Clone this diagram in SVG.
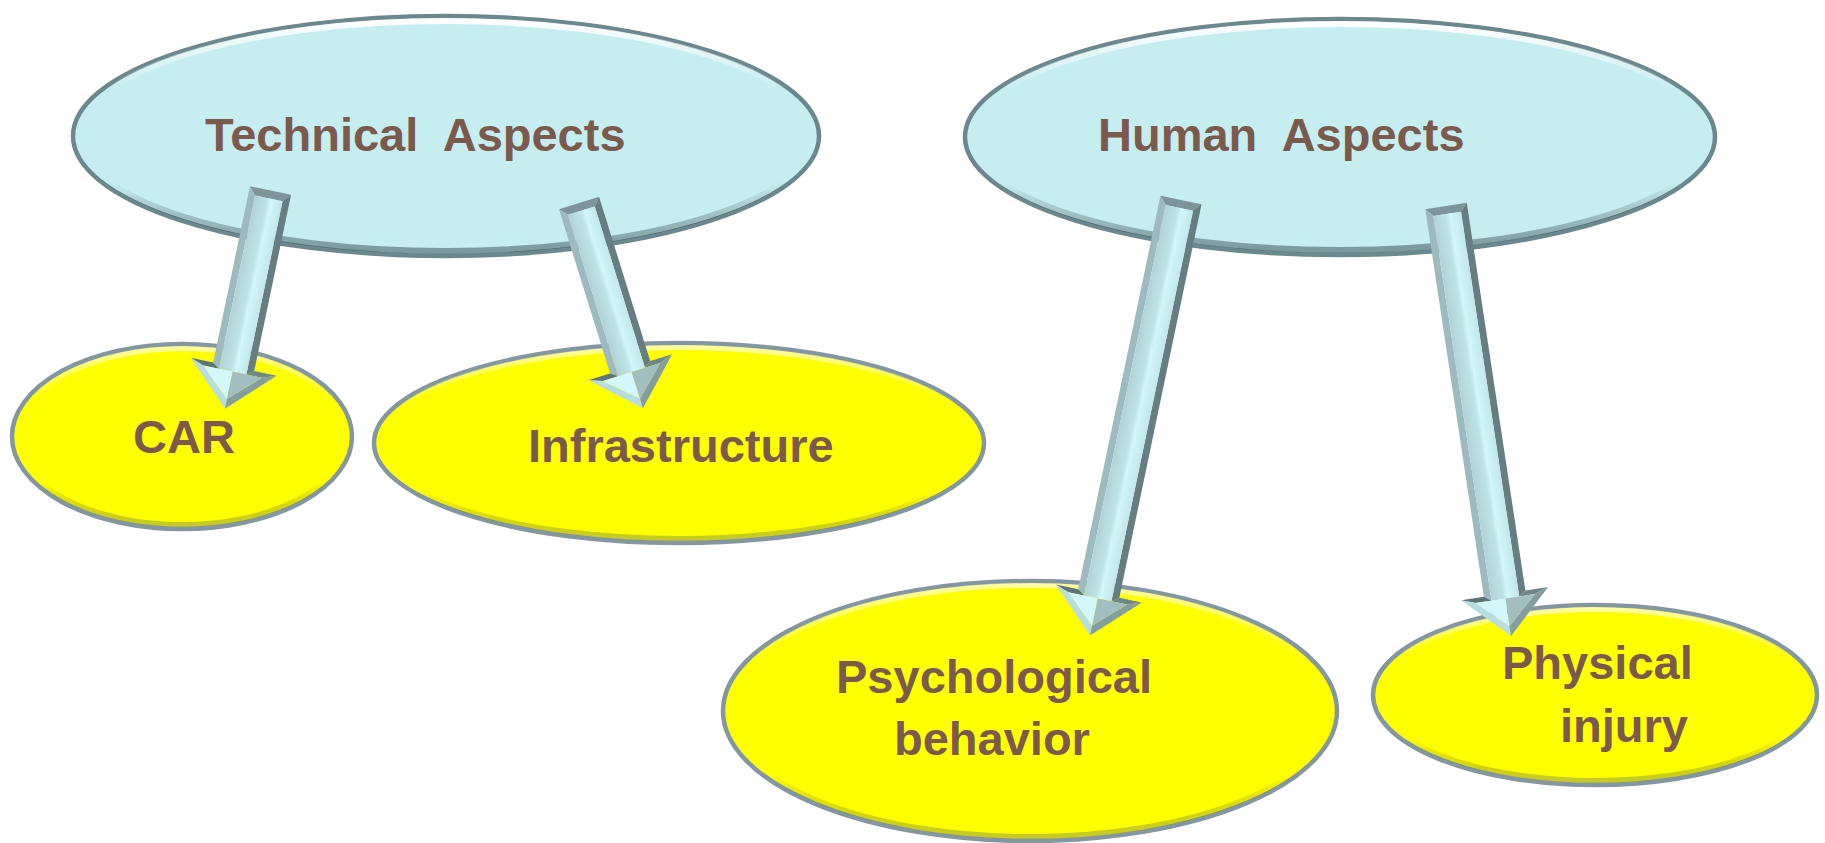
<svg xmlns="http://www.w3.org/2000/svg" width="1825" height="843" viewBox="0 0 1825 843">
<defs>
<linearGradient id="bevel" x1="0" y1="0" x2="0" y2="1">
<stop offset="0" stop-color="#ffffff" stop-opacity="0.95"/>
<stop offset="0.3" stop-color="#ffffff" stop-opacity="0"/>
<stop offset="0.7" stop-color="#000000" stop-opacity="0"/>
<stop offset="1" stop-color="#1e3236" stop-opacity="0.45"/>
</linearGradient>
<linearGradient id="bevelY" x1="0" y1="0" x2="0" y2="1">
<stop offset="0" stop-color="#ffffff" stop-opacity="0.6"/>
<stop offset="0.3" stop-color="#ffffff" stop-opacity="0"/>
<stop offset="0.75" stop-color="#000000" stop-opacity="0"/>
<stop offset="1" stop-color="#5a6a6c" stop-opacity="0.35"/>
</linearGradient>
<linearGradient id="shaft" x1="0" y1="0" x2="1" y2="0">
<stop offset="0" stop-color="#AFD3D7"/>
<stop offset="0.45" stop-color="#BFE4E7"/>
<stop offset="0.6" stop-color="#D3F8FA"/>
<stop offset="1" stop-color="#C2E7EA"/>
</linearGradient>
<style>
.tech{fill:#C6EEF1;stroke:#6A888E;stroke-width:4.5}
.sub{fill:#FFFF00;stroke:#8497A0;stroke-width:4.5}
.bv{fill:none;stroke:url(#bevel);stroke-width:6}
.bvy{fill:none;stroke:url(#bevelY);stroke-width:5}
.lbl{font-family:"Liberation Sans",Arial,sans-serif;font-weight:bold;font-size:47px;fill:#7B5A4D}
.at{fill:#7D9599}.al{fill:#9DBBBE}.ar{fill:#667E82}.af{fill:url(#shaft)}
.alw{fill:#5D7478}.arw{fill:#6F878B}.all{fill:#B7DDE0}.arl{fill:#839DA0}
.ahl{fill:#D2F8FA}.ahr{fill:#A2BEC1}
</style>
</defs>
<rect width="1825" height="843" fill="#ffffff"/>

<g id="technical">
<ellipse class="tech" cx="446" cy="136" rx="373" ry="120"/>
<ellipse class="bv" cx="446" cy="136" rx="368" ry="115"/>
<text class="lbl" x="205" y="151" xml:space="preserve">Technical  Aspects</text>
</g>

<g id="human">
<ellipse class="tech" cx="1340" cy="137" rx="375" ry="118"/>
<ellipse class="bv" cx="1340" cy="137" rx="370" ry="113"/>
<text class="lbl" x="1098" y="151" xml:space="preserve">Human  Aspects</text>
</g>

<g id="car">
<ellipse class="sub" cx="182" cy="436.5" rx="170" ry="92.5"/>
<ellipse class="bvy" cx="182" cy="436.5" rx="165.5" ry="88"/>
<text class="lbl" x="133" y="453">CAR</text>
</g>

<g id="infrastructure">
<ellipse class="sub" cx="679" cy="443" rx="305" ry="100"/>
<ellipse class="bvy" cx="679" cy="443" rx="300.5" ry="95.5"/>
<text class="lbl" x="528" y="462">Infrastructure</text>
</g>

<g id="psychological">
<ellipse class="sub" cx="1030" cy="711" rx="307" ry="130"/>
<ellipse class="bvy" cx="1030" cy="711" rx="302.5" ry="125.5"/>
<text class="lbl" x="836" y="693">Psychological</text>
<text class="lbl" x="894" y="755">behavior</text>
</g>

<g id="physical">
<ellipse class="sub" cx="1595" cy="695" rx="222" ry="90"/>
<ellipse class="bvy" cx="1595" cy="695" rx="217.5" ry="85.5"/>
<text class="lbl" x="1502" y="679">Physical</text>
<text class="lbl" x="1560" y="742">injury</text>
</g>

<g id="connectors">
<g transform="translate(270.5,190.5) rotate(11.8)">
<polygon class="at" points="-21,0 21,0 14,8 -14,8"/>
<polygon class="al" points="-21,0 -14,8 -14,185 -21,180"/>
<polygon class="ar" points="21,0 21,180 14,185 14,8"/>
<polygon class="af" points="-14,8 14,8 14,185 -14,185"/>
<polygon class="alw" points="-21,180 -44,180 -30,185 -14,185"/>
<polygon class="arw" points="21,180 44,180 30,185 14,185"/>
<polygon class="all" points="-44,180 0,223 0,213 -30,185"/>
<polygon class="arl" points="44,180 0,223 0,213 30,185"/>
<polygon class="ahl" points="-30,185 0,185 0,213"/>
<polygon class="ahr" points="0,185 30,185 0,213"/>
</g>
<g transform="translate(579,203) rotate(-17.3)">
<polygon class="at" points="-21,0 21,0 14,8 -14,8"/>
<polygon class="al" points="-21,0 -14,8 -14,177 -21,172"/>
<polygon class="ar" points="21,0 21,172 14,177 14,8"/>
<polygon class="af" points="-14,8 14,8 14,177 -14,177"/>
<polygon class="alw" points="-21,172 -44,172 -30,177 -14,177"/>
<polygon class="arw" points="21,172 44,172 30,177 14,177"/>
<polygon class="all" points="-44,172 0,215 0,205 -30,177"/>
<polygon class="arl" points="44,172 0,215 0,205 30,177"/>
<polygon class="ahl" points="-30,177 0,177 0,205"/>
<polygon class="ahr" points="0,177 30,177 0,205"/>
</g>
<g transform="translate(1181,200) rotate(11.8)">
<polygon class="at" points="-21,0 21,0 14,8 -14,8"/>
<polygon class="al" points="-21,0 -14,8 -14,407 -21,402"/>
<polygon class="ar" points="21,0 21,402 14,407 14,8"/>
<polygon class="af" points="-14,8 14,8 14,407 -14,407"/>
<polygon class="alw" points="-21,402 -44,402 -30,407 -14,407"/>
<polygon class="arw" points="21,402 44,402 30,407 14,407"/>
<polygon class="all" points="-44,402 0,445 0,435 -30,407"/>
<polygon class="arl" points="44,402 0,445 0,435 30,407"/>
<polygon class="ahl" points="-30,407 0,407 0,435"/>
<polygon class="ahr" points="0,407 30,407 0,435"/>
</g>
<g transform="translate(1446,206) rotate(-8.6)">
<polygon class="at" points="-21,0 21,0 14,8 -14,8"/>
<polygon class="al" points="-21,0 -14,8 -14,397 -21,392"/>
<polygon class="ar" points="21,0 21,392 14,397 14,8"/>
<polygon class="af" points="-14,8 14,8 14,397 -14,397"/>
<polygon class="alw" points="-21,392 -44,392 -30,397 -14,397"/>
<polygon class="arw" points="21,392 44,392 30,397 14,397"/>
<polygon class="all" points="-44,392 0,435 0,425 -30,397"/>
<polygon class="arl" points="44,392 0,435 0,425 30,397"/>
<polygon class="ahl" points="-30,397 0,397 0,425"/>
<polygon class="ahr" points="0,397 30,397 0,425"/>
</g>
</g>
</svg>
